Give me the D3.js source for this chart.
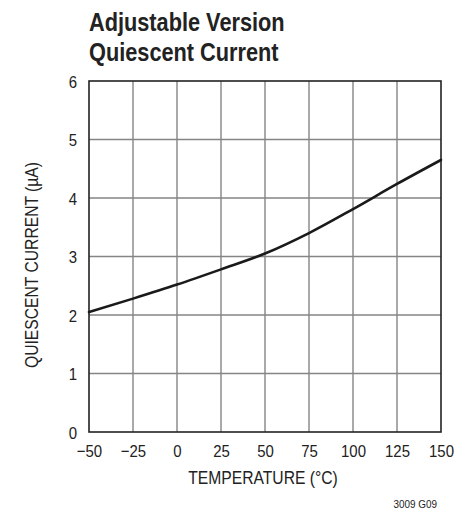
<!DOCTYPE html>
<html>
<head>
<meta charset="utf-8">
<script src="https://cdn.jsdelivr.net/npm/d3@7/dist/d3.min.js"></script>
<style>
  html, body { margin: 0; padding: 0; background: #fff; }
  svg { display: block; }
  text { font-family: "Liberation Sans", Arial, sans-serif; fill: #222; }
</style>
</head>
<body>
<svg id="chart" width="471" height="510"></svg>
<script>
const titleLines = ["Adjustable Version", "Quiescent Current"];
const xLabel = "TEMPERATURE (°C)";
const yLabel = "QUIESCENT CURRENT (µA)";
const footnote = "3009 G09";
const xTicks = [-50, -25, 0, 25, 50, 75, 100, 125, 150];
const yTicks = [0, 1, 2, 3, 4, 5, 6];
const temperature = [-50, -25, 0, 25, 50, 75, 100, 125, 150];
const current = [2.05, 2.28, 2.52, 2.78, 3.05, 3.40, 3.81, 4.24, 4.65];

const svg = d3.select("#chart");
const m = { left: 89, right: 441, top: 81, bottom: 432 };
const x = d3.scaleLinear().domain([-50, 150]).range([m.left, m.right]);
const y = d3.scaleLinear().domain([0, 6]).range([m.bottom, m.top]);

// narrow the Helvetica-like font to mimic a condensed face
function condense(sel, f) {
  sel.each(function () {
    const w = this.getComputedTextLength();
    d3.select(this).attr("textLength", w * f).attr("lengthAdjust", "spacingAndGlyphs");
  });
}

// grid
const g = svg.append("g");
g.selectAll(".vg").data(xTicks.slice(1, -1)).enter().append("line")
  .attr("x1", d => x(d)).attr("x2", d => x(d))
  .attr("y1", m.top).attr("y2", m.bottom)
  .attr("stroke", "#858585").attr("stroke-width", 1.4);
g.selectAll(".hg").data(yTicks.slice(1, -1)).enter().append("line")
  .attr("x1", m.left).attr("x2", m.right)
  .attr("y1", d => y(d)).attr("y2", d => y(d))
  .attr("stroke", "#858585").attr("stroke-width", 1.4);
g.append("rect").attr("x", m.left).attr("y", m.top)
  .attr("width", m.right - m.left).attr("height", m.bottom - m.top)
  .attr("fill", "none").attr("stroke", "#222").attr("stroke-width", 1.6);

// curve
const pts = temperature.map((t, i) => [t, current[i]]);
svg.append("path").datum(pts)
  .attr("d", d3.line().x(d => x(d[0])).y(d => y(d[1])).curve(d3.curveMonotoneX))
  .attr("fill", "none").attr("stroke", "#1a1a1a").attr("stroke-width", 2.6)
  .attr("stroke-linecap", "round");

// axes
const xAxis = d3.axisBottom(x).tickValues(xTicks).tickSize(0).tickPadding(0)
  .tickFormat(d => d < 0 ? "\u2212" + Math.abs(d) : String(d));
const xa = svg.append("g").attr("transform", `translate(0,${m.bottom})`).call(xAxis);
xa.select(".domain").remove();
xa.attr("font-family", null).attr("font-size", null);
xa.selectAll("text").attr("dy", null).attr("y", 25)
  .style("font-size", "17px").attr("fill", "#222");
condense(xa.selectAll("text"), 0.88);

const yAxis = d3.axisLeft(y).tickValues(yTicks).tickSize(0).tickPadding(12)
  .tickFormat(d3.format("d"));
const ya = svg.append("g").attr("transform", `translate(${m.left},0)`).call(yAxis);
ya.select(".domain").remove();
ya.attr("font-family", null).attr("font-size", null);
ya.selectAll("text").attr("dy", "0.36em")
  .style("font-size", "17px").attr("fill", "#222");
condense(ya.selectAll("text"), 0.88);
svg.selectAll(".tick line").remove();

// titles
const tt = svg.selectAll(".title").data(titleLines).enter().append("text")
  .attr("x", m.left).attr("y", (d, i) => 31 + i * 30)
  .style("font-size", "26.5px").style("font-weight", "bold").attr("fill", "#222")
  .text(d => d);
condense(tt, 0.82);

const xl = svg.append("text").attr("x", 263).attr("y", 484)
  .attr("text-anchor", "middle").style("font-size", "18px").text(xLabel);
condense(xl, 0.87);

const yl = svg.append("text").attr("transform", "translate(38,265) rotate(-90)")
  .attr("text-anchor", "middle").style("font-size", "18px").text(yLabel);
condense(yl, 0.87);

const fn = svg.append("text").attr("x", 437).attr("y", 508)
  .attr("text-anchor", "end").style("font-size", "11px").text(footnote);
condense(fn, 0.9);
</script>
</body>
</html>
